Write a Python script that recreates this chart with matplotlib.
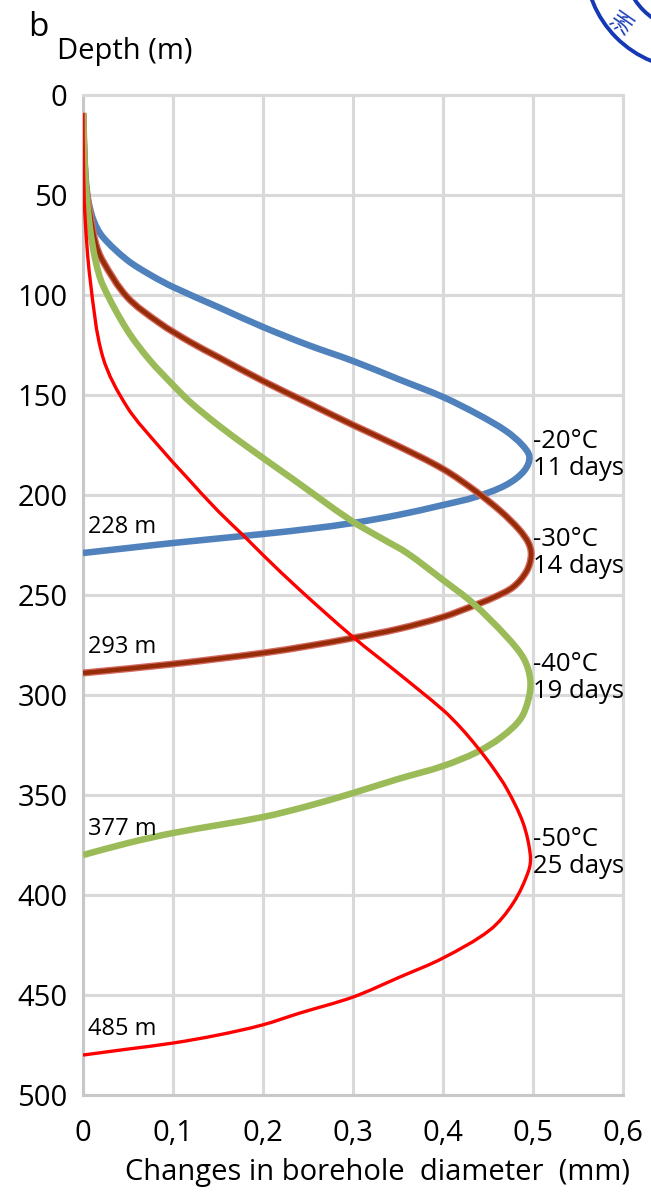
import matplotlib
matplotlib.use("Agg")
import matplotlib.pyplot as plt
import numpy as np
from matplotlib.patches import Circle, PathPatch
from matplotlib.path import Path

plt.rcParams['font.family'] = ['Open Sans', 'DejaVu Sans']

# borehole diameter change (mm) vs depth (m) for each freezing regime
blue_x = [0.0, 0.001, 0.003, 0.006, 0.012, 0.022, 0.049, 0.075, 0.1, 0.15, 0.2, 0.25, 0.3, 0.35,
          0.4, 0.44, 0.47, 0.488, 0.496, 0.49, 0.47, 0.436, 0.4, 0.35, 0.3, 0.25, 0.2, 0.1, 0.05, 0.0]
blue_d = [9, 25, 42, 53, 63, 71, 82.5, 90, 96, 106, 116, 125, 133, 142,
          151, 160, 168, 175, 181, 188, 195, 201, 205, 210, 214, 217, 219.5, 224, 226.5, 229]

brown_x = [0.0, 0.001, 0.003, 0.008, 0.014, 0.022, 0.049, 0.085, 0.119, 0.15, 0.2, 0.25, 0.3, 0.35,
           0.4, 0.436, 0.465, 0.485, 0.495, 0.498, 0.493, 0.478, 0.455, 0.433, 0.4, 0.35, 0.3,
           0.25, 0.2, 0.1, 0.0]
brown_d = [9, 25, 45, 60, 74, 83, 101, 114, 123.5, 131, 143, 154, 165, 175.5,
           187, 198, 208.5, 217.5, 224, 230, 238, 246, 251.5, 255.5, 261, 267, 271.5,
           275.5, 279, 284.5, 289]

green_x = [0.0, 0.001, 0.003, 0.008, 0.014, 0.022, 0.049, 0.074, 0.1, 0.119, 0.15, 0.186, 0.233,
           0.297, 0.333, 0.36, 0.4, 0.433, 0.471, 0.49, 0.497, 0.495, 0.486, 0.465, 0.438, 0.4,
           0.35, 0.3, 0.25, 0.2, 0.1, 0.05, 0.0]
green_d = [9, 25, 45, 67.5, 83, 95, 117.5, 132.5, 145, 153.5, 165, 177, 192,
           212.5, 222, 229, 242.5, 254, 271, 282, 292.5, 302, 312, 321, 328.5, 335.5,
           342, 349, 355.5, 361, 369, 374, 380]

red_x = [0.0, 0.0005, 0.002, 0.008, 0.022, 0.049, 0.085, 0.115, 0.15, 0.18, 0.2, 0.241, 0.3,
         0.35, 0.4, 0.42, 0.438, 0.455, 0.471, 0.489, 0.497, 0.495, 0.478, 0.452, 0.4, 0.352,
         0.3, 0.241, 0.199, 0.15, 0.1, 0.05, 0.0]
red_d = [9, 35, 59, 92.5, 131, 156, 176, 191, 208, 221, 230, 247.5, 271,
         289, 307.5, 316.5, 326, 336, 347, 364, 380, 388, 404, 417.5, 431.5, 441,
         451, 459, 465, 470, 474, 477, 480]

end_labels = ['228 m', '293 m', '377 m', '485 m']
temp_labels = ['-20\u00b0C\n11 days', '-30\u00b0C\n14 days', '-40\u00b0C\n19 days', '-50\u00b0C\n25 days']

x_ticks = [0, 0.1, 0.2, 0.3, 0.4, 0.5, 0.6]
x_ticklabels = ['0', '0,1', '0,2', '0,3', '0,4', '0,5', '0,6']
y_ticks = [0, 50, 100, 150, 200, 250, 300, 350, 400, 450, 500]


def smooth_path(ax, xs, ys):
    # smoothed line through the points (cubic Bezier, tangents taken in screen space)
    p = np.column_stack([xs, ys]).astype(float)
    q = ax.transData.transform(p)
    n = len(q)
    tan = np.zeros_like(q)
    for i in range(n):
        a = q[max(i - 1, 0)]
        b = q[min(i + 1, n - 1)]
        v = b - a
        tan[i] = v / (np.hypot(*v) or 1.0)
    verts = [q[0]]
    codes = [Path.MOVETO]
    for i in range(n - 1):
        L = np.hypot(*(q[i + 1] - q[i]))
        verts += [q[i] + tan[i] * L / 3, q[i + 1] - tan[i + 1] * L / 3, q[i + 1]]
        codes += [Path.CURVE4] * 3
    verts = ax.transData.inverted().transform(np.array(verts))
    return Path(verts, codes)


def draw_curve(ax, xs, ys, color, lw, z=3):
    ax.add_patch(PathPatch(smooth_path(ax, xs, ys), fill=False, ec=color, lw=lw,
                           capstyle='butt', joinstyle='round', zorder=z))


fig = plt.figure(figsize=(6.51, 11.93), dpi=100)
ax = fig.add_axes([0.1275, 0.0821, 0.8295, 0.8383])

grid_c = '#d9d9d9'
ax.set_xlim(0, 0.6)
ax.set_ylim(500, 0)
ax.set_xticks(x_ticks)
ax.set_xticklabels(x_ticklabels)
ax.set_yticks(y_ticks)
ax.grid(True, color=grid_c, lw=2.2)
ax.set_axisbelow(True)
for s in ax.spines.values():
    s.set_color(grid_c)
    s.set_linewidth(2.2)
ax.spines['left'].set_color('#c8c8c8')
ax.spines['bottom'].set_color('#c8c8c8')
ax.tick_params(length=0, labelsize=21)
ax.tick_params(axis='x', pad=17)
ax.tick_params(axis='y', pad=11)

# curves
draw_curve(ax, blue_x, blue_d, '#4f81bd', 4.7)
draw_curve(ax, brown_x, brown_d, '#d46a60', 5.1)
draw_curve(ax, brown_x, brown_d, '#962d08', 3.2)
draw_curve(ax, green_x, green_d, '#9bbb59', 4.7)
draw_curve(ax, red_x, red_d, '#ff0000', 2.4, z=4)

# labels at the freezing-front depth and at the widest point
curves = [(blue_x, blue_d), (brown_x, brown_d), (green_x, green_d), (red_x, red_d)]
for (xs, ds), lab, tlab in zip(curves, end_labels, temp_labels):
    ax.text(0.005, ds[-1] - 7, lab, fontsize=17, ha='left', va='bottom')
    i = int(np.argmax(xs))
    ax.text(0.4995, ds[i] - 1, tlab, fontsize=18.5, ha='left', va='center',
            linespacing=1.1, zorder=5)

fig.text(0.043, 0.977, 'b', fontsize=24, ha='left', va='center')
fig.text(0.087, 0.957, 'Depth (m)', fontsize=21, ha='left', va='center')
fig.text(0.58, 0.0176, 'Changes in borehole  diameter  (mm)', fontsize=21,
         ha='center', va='center')

# partial emblem in the corner
for r in (1.07, 0.685):
    fig.add_artist(Circle((6.92, 12.31), r, transform=fig.dpi_scale_trans,
                          fill=False, ec='#1538b5', lw=2.8, clip_on=False))
fig.text(0.958, 0.981, '洲', family=['Noto Sans CJK SC', 'DejaVu Sans'],
         fontsize=16, color='#1538b5', rotation=55, ha='center', va='center')

fig.savefig('out.png', dpi=100)
